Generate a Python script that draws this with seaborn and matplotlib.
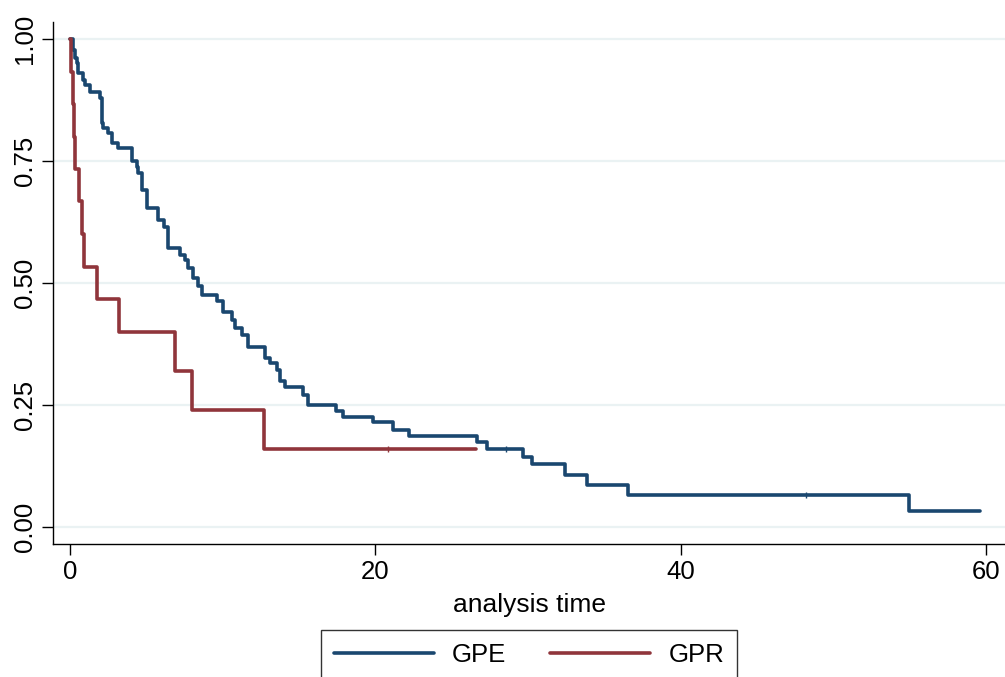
import matplotlib.pyplot as plt
import pandas as pd
import seaborn as sns

# Kaplan-Meier steps: time of each drop and survival after it
gpe_time = [0, 0.2, 0.33, 0.44, 0.54, 0.87, 0.98, 1.31, 1.96, 2.08, 2.18, 2.49,
            2.73, 3.16, 4.04, 4.37, 4.47, 4.70, 5.02, 5.78, 6.18, 6.44, 7.20,
            7.53, 7.73, 8.06, 8.38, 8.64, 9.63, 10.02, 10.61, 10.81, 11.26,
            11.66, 12.77, 13.10, 13.56, 13.75, 14.08, 15.26, 15.59, 17.42,
            17.88, 19.84, 21.15, 22.20, 26.65, 27.31, 29.67, 30.26, 32.42,
            33.84, 36.56, 54.94, 59.6]
gpe_surv = [1.0, 0.977, 0.961, 0.950, 0.930, 0.916, 0.906, 0.892, 0.880, 0.828,
            0.817, 0.807, 0.786, 0.776, 0.749, 0.738, 0.725, 0.691, 0.653,
            0.629, 0.615, 0.571, 0.557, 0.547, 0.531, 0.510, 0.494, 0.475,
            0.462, 0.441, 0.424, 0.408, 0.393, 0.368, 0.346, 0.336, 0.322,
            0.298, 0.287, 0.270, 0.249, 0.238, 0.225, 0.214, 0.199, 0.186,
            0.174, 0.160, 0.144, 0.128, 0.107, 0.086, 0.065, 0.032, 0.032]

gpr_time = [0, 0.05, 0.22, 0.26, 0.30, 0.60, 0.80, 0.94, 1.75, 3.20, 6.88,
            7.97, 12.73, 26.6]
gpr_surv = [1.0, 0.933, 0.867, 0.800, 0.733, 0.667, 0.600, 0.533, 0.467,
            0.400, 0.320, 0.240, 0.160, 0.160]

# Censoring ticks
gpe_cens_time = [28.55, 48.2]
gpe_cens_surv = [0.160, 0.065]
gpr_cens_time = [20.8]
gpr_cens_surv = [0.160]

groups = ["GPE", "GPR"]
colors = {"GPE": "#1a476f", "GPR": "#90353b"}

df = pd.concat([
    pd.DataFrame({"time": gpe_time, "surv": gpe_surv, "group": "GPE"}),
    pd.DataFrame({"time": gpr_time, "surv": gpr_surv, "group": "GPR"}),
])

sns.set_style("white")
plt.rcParams["font.family"] = ["Liberation Sans", "DejaVu Sans"]
plt.rcParams["text.color"] = "black"
plt.rcParams["axes.labelcolor"] = "black"

fig = plt.figure(figsize=(10.05, 6.77), dpi=100)
ax = fig.add_axes([53 / 1005, 133 / 677, 952 / 1005, 522 / 677])

sns.lineplot(data=df, x="time", y="surv", hue="group", palette=colors,
             estimator=None, sort=False, drawstyle="steps-post",
             linewidth=2.6, legend=False, ax=ax)

# Censor marks
ax.plot(gpe_cens_time, gpe_cens_surv, linestyle="none", marker="|",
        markersize=4, color=colors["GPE"])
ax.plot(gpr_cens_time, gpr_cens_surv, linestyle="none", marker="|",
        markersize=4, color=colors["GPR"])

ax.set_xlim(-1.11, 61.23)
ax.set_ylim(-0.0353, 1.035)

# Light horizontal grid
ax.grid(axis="y", color="#eaf2f3", linewidth=1.6)
ax.grid(axis="x", visible=False)
ax.set_axisbelow(True)

# Y axis
yticks = [0, 0.25, 0.5, 0.75, 1.0]
ax.set_yticks(yticks)
ax.set_yticklabels([f"{v:.2f}" for v in yticks], rotation=90, va="center")
ax.set_ylabel("")

# X axis
ax.set_xticks([0, 20, 40, 60])
ax.set_xlabel("analysis time", fontsize=19, labelpad=6, color="black")

ax.tick_params(axis="both", direction="out", length=7.7, width=1,
               labelsize=18.5, color="black", labelcolor="black",
               left=True, bottom=True)
ax.tick_params(axis="y", pad=4)
ax.tick_params(axis="x", pad=4)

for side in ["top", "right"]:
    ax.spines[side].set_visible(False)
for side in ["left", "bottom"]:
    ax.spines[side].set_color("black")
    ax.spines[side].set_linewidth(1.0)

# Legend below the plot
handles = ax.lines[:2]
leg = fig.legend(handles, groups, loc="upper center",
                 bbox_to_anchor=(529 / 1005, 1 - 630 / 677), ncol=2,
                 fontsize=18.5, frameon=True, fancybox=False, handlelength=3.9,
                 handletextpad=0.7, columnspacing=1.7, borderpad=0.5,
                 borderaxespad=0)
leg.get_frame().set_edgecolor("black")
leg.get_frame().set_linewidth(1.0)
for txt in leg.get_texts():
    txt.set_color("black")

fig.savefig("out.png", dpi=100)
